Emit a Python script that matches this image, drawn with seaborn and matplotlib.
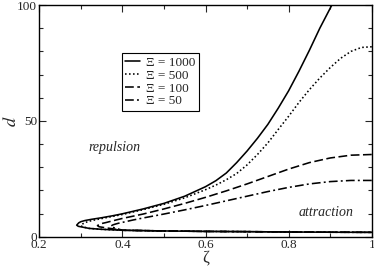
import numpy as np
import matplotlib as mpl
mpl.use("Agg")
import matplotlib.pyplot as plt
import seaborn as sns
from matplotlib.ticker import MultipleLocator

# upper branches (zeta, d~)
# Xi = 1000 (solid)
z1000_up = [0.29, 0.295, 0.30, 0.31, 0.325, 0.35, 0.375, 0.40, 0.45, 0.50, 0.55, 0.60, 0.625, 0.65,
            0.675, 0.70, 0.725, 0.75, 0.775, 0.80, 0.825, 0.85, 0.875, 0.904]
d1000_up = [5.0, 6.0, 6.5, 7.0, 7.5, 8.2, 9.0, 9.9, 12.0, 14.4, 17.5, 21.6, 24.2, 27.5,
            32.0, 37.0, 42.5, 48.5, 55.5, 63.0, 71.5, 80.5, 90.0, 100.0]
# Xi = 500 (dotted)
z500_up = [0.30, 0.305, 0.31, 0.32, 0.335, 0.36, 0.40, 0.45, 0.50, 0.55, 0.60, 0.625, 0.65, 0.675,
           0.70, 0.725, 0.75, 0.775, 0.80, 0.825, 0.85, 0.875, 0.90, 0.925, 0.95, 0.975, 1.00]
d500_up = [4.8, 5.6, 6.1, 6.7, 7.3, 8.2, 9.6, 11.7, 14.0, 16.8, 20.3, 22.3, 24.6, 27.3,
           31.0, 35.5, 40.5, 46.3, 52.0, 58.0, 63.5, 68.5, 73.0, 77.0, 80.0, 81.7, 82.0]
# Xi = 100 (dashed)
z100_up = [0.34, 0.345, 0.35, 0.36, 0.375, 0.40, 0.45, 0.50, 0.55, 0.60, 0.65, 0.70, 0.75, 0.80,
           0.85, 0.90, 0.95, 1.00]
d100_up = [4.8, 5.4, 5.7, 6.1, 6.8, 7.9, 9.8, 12.0, 14.4, 17.0, 19.8, 22.8, 26.0, 29.2,
           32.0, 34.0, 35.2, 35.5]
# Xi = 50 (dash-dot)
z50_up = [0.372, 0.377, 0.382, 0.39, 0.40, 0.425, 0.45, 0.50, 0.55, 0.60, 0.65, 0.70, 0.75, 0.80,
          0.85, 0.90, 0.95, 1.00]
d50_up = [4.6, 5.1, 5.4, 5.8, 6.2, 7.2, 8.1, 9.8, 11.6, 13.5, 15.5, 17.5, 19.5, 21.3,
          22.8, 23.8, 24.3, 24.3]

# lower branch (attraction side), shared by all four curves
z_low = [0.30, 0.32, 0.35, 0.40, 0.50, 0.60, 0.70, 0.80, 0.90, 1.00]
d_low = [4.2, 3.6, 3.2, 2.8, 2.5, 2.3, 2.2, 2.05, 1.95, 1.9]

labels = ["Ξ = 1000", "Ξ = 500", "Ξ = 100", "Ξ = 50"]

sns.set_style("ticks")
plt.rcParams["font.family"] = ["Liberation Serif", "DejaVu Serif"]
plt.rcParams["mathtext.fontset"] = "stix"

fig = plt.figure(figsize=(3.74, 2.66), dpi=100)
ax = fig.add_axes([0.105, 0.11, 0.889, 0.871])

styles = ["-", (0, (1, 1.5)), (0, (5.5, 2.2)), (0, (5.5, 2, 1.2, 2))]
curves = [(z1000_up, d1000_up), (z500_up, d500_up), (z100_up, d100_up), (z50_up, d50_up)]

for (zu, du), ls, lab in zip(curves, styles, labels):
    # nose -> lower branch, joined to the reversed upper branch
    z0, d0 = zu[0], du[0]
    zl = [z for z in z_low if z > z0 + 0.012]
    dl = [d for z, d in zip(z_low, d_low) if z > z0 + 0.012]
    zz = list(zu[::-1]) + [z0 + 0.004] + zl
    dd = list(du[::-1]) + [d0 - 0.5] + dl
    sns.lineplot(x=zz, y=dd, sort=False, estimator=None, ax=ax, color="black",
                 lw=1.15, linestyle=ls, label=lab)

ax.set_xlim(0.2, 1.0)
ax.set_ylim(0, 100)
ax.set_xticks([0.2, 0.4, 0.6, 0.8, 1.0])
ax.set_xticklabels(["0.2", "0.4", "0.6", "0.8", "1"])
ax.xaxis.set_minor_locator(MultipleLocator(0.1))
ax.yaxis.set_major_locator(MultipleLocator(50))
ax.yaxis.set_minor_locator(MultipleLocator(10))
ax.tick_params(which="both", direction="in", top=True, right=True, labelsize=9.5, pad=1.5)
ax.tick_params(which="major", length=5, width=0.8)
ax.tick_params(which="minor", length=3, width=0.8)
for s in ax.spines.values():
    s.set_linewidth(1.0)
    s.set_color("black")

ax.set_xlabel("ζ", fontsize=12, labelpad=-1)
ax.set_ylabel(r"$\tilde{d}$", fontsize=13, labelpad=0)
ax.yaxis.set_label_coords(-0.055, 0.5)

ax.text(0.382, 38.5, "repulsion", style="italic", fontsize=10, ha="center", va="center")
ax.text(0.89, 10.5, "attraction", style="italic", fontsize=10, ha="center", va="center")

leg = ax.legend(loc="upper left", bbox_to_anchor=(0.249, 0.792), borderaxespad=0,
                fancybox=False, framealpha=1, edgecolor="black", fontsize=9.5,
                handlelength=1.1, handletextpad=0.5, labelspacing=0.05, borderpad=0.25)
leg.get_frame().set_linewidth(0.8)

fig.savefig("out.png", dpi=100)
